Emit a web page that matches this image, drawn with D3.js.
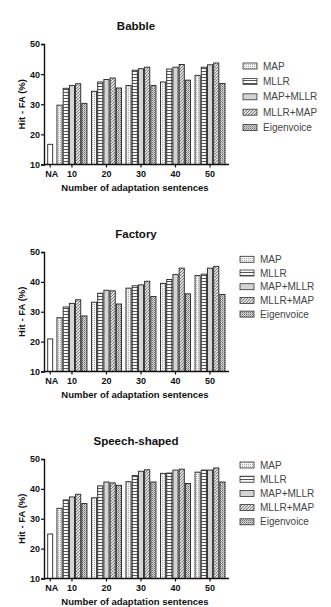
<!DOCTYPE html>
<html>
<head>
<meta charset="utf-8">
<script src="https://cdn.jsdelivr.net/npm/d3@7"></script>
<style>
  body { margin: 0; background: #fff; }
  svg { display: block; font-family: "Liberation Sans", Arial, sans-serif; }
</style>
</head>
<body>
<svg id="chart" width="331" height="607"></svg>
<script>
// Data
const groups = ["10", "20", "30", "40", "50"];
const methods = ["MAP", "MLLR", "MAP+MLLR", "MLLR+MAP", "Eigenvoice"];
const yTicks = [10, 20, 30, 40, 50];
const titles = ["Babble", "Factory", "Speech-shaped"];
const baseline = [16.7, 20.9, 24.9]; // NA bar

// rows = groups, columns = methods
const babble = [
  [29.7, 35.3, 36.2, 36.8, 30.3],
  [34.3, 37.4, 38.2, 38.7, 35.4],
  [36.2, 41.3, 41.8, 42.3, 36.2],
  [37.4, 41.7, 42.3, 43.2, 38.0],
  [39.6, 42.3, 43.1, 43.7, 36.9]
];
const factory = [
  [28.0, 31.6, 32.8, 34.0, 28.6],
  [33.2, 36.2, 37.2, 37.0, 32.6],
  [37.9, 38.7, 39.0, 40.2, 35.1],
  [39.5, 40.8, 42.5, 44.6, 36.0],
  [42.1, 42.6, 44.6, 45.2, 35.8]
];
const speech = [
  [33.5, 36.3, 37.3, 38.2, 35.1],
  [37.0, 41.0, 42.3, 42.0, 41.2],
  [42.4, 44.5, 45.9, 46.4, 42.3],
  [45.2, 45.3, 46.3, 46.6, 41.8],
  [45.6, 46.3, 46.3, 47.0, 42.3]
];
const series = [babble, factory, speech];

// Layout per panel
const panels = [
  { top: 44,  bottom: 164.5, legTop: 66,    legStep: 15.4, legX: 243 },
  { top: 252, bottom: 371.5, legTop: 259.3, legStep: 13.7, legX: 240 },
  { top: 459, bottom: 578.5, legTop: 465,   legStep: 14.2, legX: 240 }
];

const svg = d3.select("#chart");
const defs = svg.append("defs");

// Fill patterns
function pat(id, w, h, draw) {
  const p = defs.append("pattern")
    .attr("id", id).attr("patternUnits", "userSpaceOnUse")
    .attr("width", w).attr("height", h);
  draw(p);
}
pat("p-map", 2, 2, p => {
  p.append("rect").attr("width", 2).attr("height", 2).attr("fill", "#f4f4f4");
  p.append("rect").attr("width", 1).attr("height", 1).attr("fill", "#a8a8a8");
});
pat("p-mllr", 3, 3, p => {
  p.append("rect").attr("width", 3).attr("height", 3).attr("fill", "#fafafa");
  p.append("rect").attr("y", 2).attr("width", 3).attr("height", 1).attr("fill", "#555");
});
pat("p-mapmllr", 4, 4, p => {
  p.append("rect").attr("width", 4).attr("height", 4).attr("fill", "#d4d4d4");
});
pat("p-mllrmap", 3, 3, p => {
  p.append("rect").attr("width", 3).attr("height", 3).attr("fill", "#e2e2e2");
  p.append("path").attr("d", "M0,3 L3,0 M-1,1 L1,-1 M2,4 L4,2")
    .attr("stroke", "#6a6a6a").attr("stroke-width", 0.9);
});
pat("p-eigen", 2, 2, p => {
  p.append("rect").attr("width", 2).attr("height", 2).attr("fill", "#d6d6d6");
  p.append("rect").attr("width", 1).attr("height", 1).attr("fill", "#6e6e6e");
  p.append("rect").attr("x", 1).attr("y", 1).attr("width", 1).attr("height", 1).attr("fill", "#a0a0a0");
});
const fills = ["url(#p-map)", "url(#p-mllr)", "url(#p-mapmllr)", "url(#p-mllrmap)", "url(#p-eigen)"];

// x: group index -> pixel (NA sits a bit left of the first group)
const NA_POS = -0.63;
const x = d3.scaleLinear().domain([-0.81, 4.55]).range([44, 229]);
const inner = d3.scaleBand().domain(methods).range([-15, 15]).paddingInner(0.17);

panels.forEach((pn, k) => {
  const y = d3.scaleLinear().domain([10, 50]).range([pn.bottom, pn.top]);
  const g = svg.append("g");
  const data = series[k];

  // title
  g.append("text")
    .attr("x", 136).attr("y", pn.top - 14)
    .attr("text-anchor", "middle")
    .attr("font-size", "11.5px").attr("font-weight", "bold").attr("fill", "#111")
    .text(titles[k]);

  // NA bar
  g.append("rect")
    .attr("x", x(NA_POS) - 2.5).attr("width", 5)
    .attr("y", y(baseline[k])).attr("height", y(10) - y(baseline[k]))
    .attr("fill", "#fff").attr("stroke", "#222").attr("stroke-width", 0.9);

  // grouped bars
  data.forEach((row, gi) => {
    row.forEach((v, mi) => {
      g.append("rect")
        .attr("x", x(gi) + inner(methods[mi]))
        .attr("width", inner.bandwidth())
        .attr("y", y(v)).attr("height", y(10) - y(v))
        .attr("fill", fills[mi]).attr("stroke", "#222").attr("stroke-width", 0.9);
    });
  });

  // y axis
  g.append("g")
    .attr("transform", `translate(44,0)`)
    .call(d3.axisLeft(y).tickValues(yTicks).tickSize(3).tickPadding(1))
    .call(a => a.select(".domain").attr("stroke", "#111").attr("stroke-width", 1.4))
    .call(a => a.selectAll(".tick line").attr("stroke", "#111").attr("stroke-width", 1.2))
    .call(a => a.selectAll("text").attr("font-size", "9px").attr("font-weight", "bold")
      .attr("fill", "#111").attr("font-family", "Liberation Sans, Arial, sans-serif"));

  // x axis
  const xa = g.append("g").attr("transform", `translate(0,${pn.bottom})`);
  xa.append("line").attr("x1", 44).attr("x2", 229)
    .attr("stroke", "#111").attr("stroke-width", 1.4);
  const xt = [NA_POS, 0, 1, 2, 3, 4];
  const xl = ["NA"].concat(groups);
  xt.forEach((t, i) => {
    xa.append("line").attr("x1", x(t)).attr("x2", x(t)).attr("y1", 0).attr("y2", 3)
      .attr("stroke", "#111").attr("stroke-width", 1.2);
    xa.append("text").attr("x", x(t) + (i === 0 ? 1.5 : 0)).attr("y", 12.5)
      .attr("text-anchor", "middle").attr("font-size", "9px").attr("font-weight", "bold")
      .attr("fill", "#111").text(xl[i]);
  });

  // axis titles
  g.append("text")
    .attr("x", 135).attr("y", pn.bottom + 26.5)
    .attr("text-anchor", "middle").attr("font-size", "9.5px").attr("font-weight", "bold")
    .attr("fill", "#111").text("Number of adaptation sentences");
  g.append("text")
    .attr("transform", `translate(25,${(pn.top + pn.bottom) / 2}) rotate(-90)`)
    .attr("text-anchor", "middle").attr("font-size", "9.5px").attr("font-weight", "bold")
    .attr("fill", "#111").text("Hit - FA (%)");

  // legend
  methods.forEach((m, i) => {
    const ly = pn.legTop + i * pn.legStep;
    g.append("rect").attr("x", pn.legX).attr("y", ly - 3).attr("width", 14).attr("height", 6)
      .attr("fill", fills[i]).attr("stroke", "#333").attr("stroke-width", 0.8);
    g.append("text").attr("x", pn.legX + 20).attr("y", ly + 3.5)
      .attr("font-size", "10px").attr("fill", "#444").text(m);
  });
});
</script>
</body>
</html>
